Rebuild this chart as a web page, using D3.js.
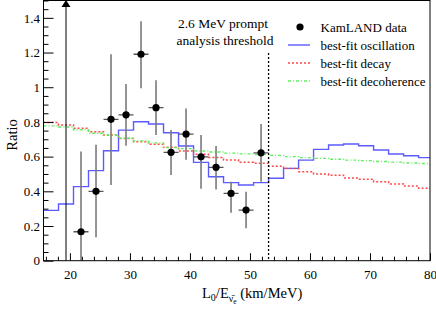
<!DOCTYPE html>
<html>
<head>
<meta charset="utf-8">
<script src="https://cdn.jsdelivr.net/npm/d3@7"></script>
<style>
  body { margin: 0; background: #fff; }
  text { font-family: "Liberation Serif", "Times New Roman", serif; }
</style>
</head>
<body>
<script>
// ---- data ----
var binEdges = [15.6, 18.1, 20.6, 23.1, 25.6, 28.1, 30.6, 33.1, 35.6, 38.1, 40.6, 43.1, 45.6,
                48.1, 50.6, 53.1, 55.6, 58.1, 60.6, 63.1, 65.6, 68.1, 70.6, 73.1, 75.6, 78.1];
var oscillation = [0.29, 0.327, 0.427, 0.519, 0.634, 0.753, 0.801, 0.788, 0.738, 0.661, 0.567, 0.484, 0.45,
                   0.436, 0.45, 0.475, 0.532, 0.58, 0.642, 0.667, 0.673, 0.663, 0.638, 0.615, 0.605, 0.594];
var decay = [0.797, 0.783, 0.763, 0.744, 0.725, 0.705, 0.686, 0.671, 0.654, 0.632, 0.613, 0.595, 0.58,
             0.567, 0.562, 0.545, 0.532, 0.513, 0.50, 0.492, 0.477, 0.47, 0.455, 0.442, 0.43, 0.417];
var decoherence = [0.777, 0.771, 0.755, 0.735, 0.725, 0.706, 0.69, 0.679, 0.652, 0.646, 0.632, 0.627, 0.62,
                   0.616, 0.612, 0.607, 0.60, 0.594, 0.59, 0.585, 0.58, 0.577, 0.572, 0.568, 0.563, 0.56];

var dataX  = [21.85, 24.35, 26.85, 29.35, 31.85, 34.35, 36.85, 39.35, 41.85, 44.35, 46.85, 49.35, 51.85];
var dataY  = [0.167, 0.40, 0.815, 0.841, 1.19, 0.882, 0.625, 0.73, 0.599, 0.538, 0.388, 0.292, 0.622];
var dataLo = [0.0, 0.135, 0.436, 0.663, 0.994, 0.725, 0.494, 0.582, 0.415, 0.41, 0.277, 0.187, 0.455];
var dataHi = [0.63, 0.669, 1.19, 1.018, 1.38, 1.04, 0.753, 0.878, 0.725, 0.661, 0.455, 0.398, 0.788];
var xHalfWidth = 1.25;

var offscaleX = [19.35];      // point above the frame, drawn as arrow
var thresholdX = 53.1;        // 2.6 MeV prompt analysis threshold

var xTicks = [20, 30, 40, 50, 60, 70, 80];
var xTickLabels = ["20", "30", "40", "50", "60", "70", "80"];
var yTicks = [0, 0.2, 0.4, 0.6, 0.8, 1, 1.2, 1.4];
var yTickLabels = ["0", "0.2", "0.4", "0.6", "0.8", "1", "1.2", "1.4"];

var legendNames = ["KamLAND data", "best-fit oscillation", "best-fit decay", "best-fit decoherence"];

// ---- drawing ----
var W = 436, H = 313;
var svg = d3.select('body').append('svg')
    .attr('width', W).attr('height', H);

var x = d3.scaleLinear().domain([15.6, 80]).range([43.5, 430]);
var y = d3.scaleLinear().domain([0, 1.5]).range([260.7, 0.5]);

svg.append('clipPath').attr('id', 'plotclip')
    .append('rect')
    .attr('x', x.range()[0]).attr('y', y.range()[1])
    .attr('width', x.range()[1] - x.range()[0])
    .attr('height', y.range()[0] - y.range()[1]);

var plot = svg.append('g').attr('clip-path', 'url(#plotclip)');

// histograms as steps
function stepLine(values) {
    var pts = values.map(function(v, i) { return [binEdges[i], v]; });
    pts.push([x.domain()[1] + 1, values[values.length - 1]]);
    return d3.line()
        .x(function(d) { return x(d[0]); })
        .y(function(d) { return y(d[1]); })
        .curve(d3.curveStepAfter)(pts);
}

var curves = [
    { vals: oscillation, color: '#5b5bff', dash: null, width: 1.4 },
    { vals: decay, color: '#ff4a4a', dash: '2,2', width: 1.5 },
    { vals: decoherence, color: '#5fef5f', dash: '3,2,1,2', width: 1.4 }
];
curves.forEach(function(c) {
    plot.append('path')
        .attr('d', stepLine(c.vals))
        .attr('fill', 'none')
        .attr('stroke', c.color)
        .attr('stroke-width', c.width)
        .attr('stroke-dasharray', c.dash);
});

// threshold line
plot.append('line')
    .attr('x1', x(thresholdX)).attr('x2', x(thresholdX))
    .attr('y1', 53).attr('y2', y(0))
    .attr('stroke', '#000').attr('stroke-width', 1.3)
    .attr('stroke-dasharray', '2,2');

// off-scale point arrow
offscaleX.forEach(function(v) {
    plot.append('line')
        .attr('x1', x(v)).attr('x2', x(v))
        .attr('y1', y(0)).attr('y2', 6)
        .attr('stroke', '#000').attr('stroke-width', 1);
    plot.append('path')
        .attr('d', 'M' + (x(v) - 4.5) + ',7 L' + (x(v) + 4.5) + ',7 L' + x(v) + ',0 Z')
        .attr('fill', '#000');
});

// data points
var pts = plot.selectAll('g.pt')
    .data(dataX.map(function(d, i) {
        return { x: d, y: dataY[i], lo: dataLo[i], hi: dataHi[i] };
    }))
    .enter().append('g').attr('class', 'pt');
pts.append('line')
    .attr('x1', function(d) { return x(d.x); })
    .attr('x2', function(d) { return x(d.x); })
    .attr('y1', function(d) { return y(d.lo); })
    .attr('y2', function(d) { return y(d.hi); })
    .attr('stroke', '#7a7a7a').attr('stroke-width', 1.6);
pts.append('line')
    .attr('x1', function(d) { return x(d.x - xHalfWidth); })
    .attr('x2', function(d) { return x(d.x + xHalfWidth); })
    .attr('y1', function(d) { return y(d.y); })
    .attr('y2', function(d) { return y(d.y); })
    .attr('stroke', '#555').attr('stroke-width', 1.3);
pts.append('circle')
    .attr('cx', function(d) { return x(d.x); })
    .attr('cy', function(d) { return y(d.y); })
    .attr('r', 3.6)
    .attr('fill', '#000');

// axes (ticks inward)
var xMinor = d3.range(16, 81, 2).filter(function(v) { return xTicks.indexOf(v) < 0; });
var yMinor = d3.range(0, 1.51, 0.05).map(function(v) { return Math.round(v * 100) / 100; })
    .filter(function(v) { return yTicks.indexOf(v) < 0; });

var gx = svg.append('g').attr('transform', 'translate(0,' + y(0) + ')');
gx.call(d3.axisBottom(x).tickValues(xTicks).tickSizeInner(-7.5).tickSizeOuter(0).tickPadding(9)
    .tickFormat(function(d, i) { return xTickLabels[i]; }));
gx.append('g').call(d3.axisBottom(x).tickValues(xMinor).tickSizeInner(-4).tickSizeOuter(0).tickFormat(''));

var gy = svg.append('g').attr('transform', 'translate(' + x.range()[0] + ',0)');
gy.call(d3.axisLeft(y).tickValues(yTicks).tickSizeInner(-10).tickSizeOuter(0).tickPadding(4)
    .tickFormat(function(d, i) { return yTickLabels[i]; }));
gy.append('g').call(d3.axisLeft(y).tickValues(yMinor).tickSizeInner(-5).tickSizeOuter(0).tickFormat(''));

svg.selectAll('.domain').remove();
svg.selectAll('.tick line').attr('stroke', '#000');
svg.selectAll('.tick text')
    .attr('font-family', '"Liberation Serif", serif')
    .attr('font-size', 13)
    .attr('fill', '#000');
gy.selectAll('.tick text').attr('x', -3.5);
gx.selectAll('.tick text').attr('dy', '0.71em');

// frame
svg.append('rect')
    .attr('x', x.range()[0]).attr('y', y.range()[1])
    .attr('width', x.range()[1] - x.range()[0])
    .attr('height', y.range()[0] - y.range()[1])
    .attr('fill', 'none').attr('stroke', '#000').attr('stroke-width', 1);

// annotation
svg.append('text').attr('x', 223).attr('y', 27.5).attr('text-anchor', 'middle')
    .attr('font-size', 13.5).text('2.6 MeV prompt');
svg.append('text').attr('x', 225).attr('y', 44.5).attr('text-anchor', 'middle')
    .attr('font-size', 13.5).text('analysis threshold');

// legend
var leg = svg.append('g');
var legY = [27, 45, 63, 81];
leg.append('circle').attr('cx', 300).attr('cy', legY[0]).attr('r', 3.6).attr('fill', '#000');
curves.forEach(function(c, i) {
    leg.append('line')
        .attr('x1', 288).attr('x2', 310)
        .attr('y1', legY[i + 1]).attr('y2', legY[i + 1])
        .attr('stroke', c.color).attr('stroke-width', c.width)
        .attr('stroke-dasharray', c.dash);
});
legendNames.forEach(function(n, i) {
    leg.append('text').attr('x', 320.5).attr('y', legY[i] + 4.5)
        .attr('font-size', 13).text(n);
});

// axis titles
svg.append('text')
    .attr('transform', 'translate(17,135) rotate(-90)')
    .attr('text-anchor', 'middle')
    .attr('font-size', 14.5).text('Ratio');

var xt = svg.append('text').attr('x', 202).attr('y', 298).attr('font-size', 14.5);
xt.append('tspan').text('L');
xt.append('tspan').attr('font-size', 10).attr('dy', 3).text('0');
xt.append('tspan').attr('dy', -3).text('/E');
xt.append('tspan').attr('font-size', 10).attr('dy', 4).text('\u03BD\u0304');
xt.append('tspan').attr('font-size', 7.5).attr('dy', 2).text('e');
xt.append('tspan').attr('dy', -6).text(' (km/MeV)');
</script>
</body>
</html>
